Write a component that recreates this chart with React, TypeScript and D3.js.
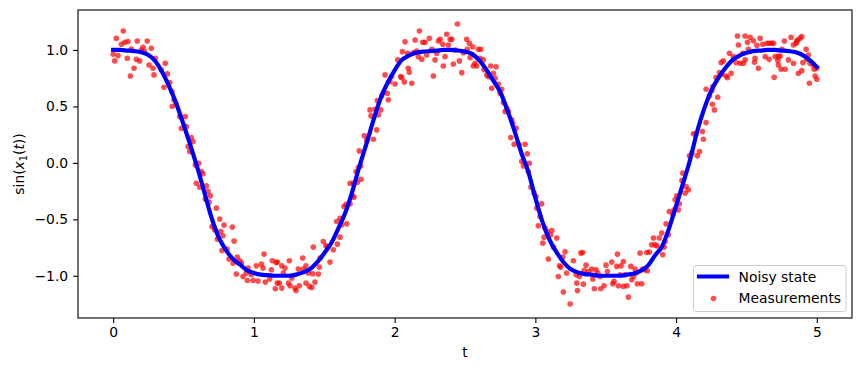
import React, { useEffect, useRef } from 'react';
import * as d3 from 'd3';

// time grid of the smooth state curve
const stateT = [
  0.0, 0.05, 0.1, 0.15, 0.2, 0.25, 0.3, 0.35, 0.4, 0.45, 0.5, 0.55, 0.6, 0.65, 0.7, 0.75, 0.8, 0.85, 0.9, 0.95,
  1.0, 1.05, 1.1, 1.15, 1.2, 1.25, 1.3, 1.35, 1.4, 1.45, 1.5, 1.55, 1.6, 1.65, 1.7, 1.75, 1.8, 1.85, 1.9, 1.95,
  2.0, 2.05, 2.1, 2.15, 2.2, 2.25, 2.3, 2.35, 2.4, 2.45, 2.5, 2.55, 2.6, 2.65, 2.7, 2.75, 2.8, 2.85, 2.9, 2.95,
  3.0, 3.05, 3.1, 3.15, 3.2, 3.25, 3.3, 3.35, 3.4, 3.45, 3.5, 3.55, 3.6, 3.65, 3.7, 3.75, 3.8, 3.85, 3.9, 3.95,
  4.0, 4.05, 4.1, 4.15, 4.2, 4.25, 4.3, 4.35, 4.4, 4.45, 4.5, 4.55, 4.6, 4.65, 4.7, 4.75, 4.8, 4.85, 4.9, 4.95,
  5.0,
];

// sin(x1(t))
const stateValues = [
  1.0, 1.0, 0.995, 0.99, 0.98, 0.955, 0.9, 0.8, 0.67, 0.52, 0.34, 0.15, -0.05, -0.27, -0.49, -0.66, -0.77, -0.85, -0.9, -0.95,
  -0.975, -0.99, -0.995, -1.0, -1.0, -1.0, -0.99, -0.97, -0.94, -0.88, -0.8, -0.71, -0.58, -0.44, -0.25, -0.03, 0.17, 0.38, 0.57, 0.71,
  0.82, 0.91, 0.95, 0.975, 0.985, 0.99, 0.995, 1.0, 1.0, 0.995, 0.985, 0.965, 0.91, 0.83, 0.73, 0.63, 0.47, 0.29, 0.09, -0.08,
  -0.31, -0.52, -0.68, -0.79, -0.88, -0.94, -0.97, -0.985, -0.99, -1.0, -1.0, -1.0, -1.0, -0.99, -0.98, -0.955, -0.91, -0.82, -0.74, -0.58,
  -0.38, -0.18, 0.03, 0.28, 0.48, 0.64, 0.75, 0.84, 0.91, 0.95, 0.975, 0.99, 0.995, 1.0, 1.0, 0.995, 0.99, 0.98, 0.955, 0.91,
  0.85,
];

// noisy measurements [t, value]
const measurements: [number, number][] = [
  [0.072, 1.168], [0.022, 1.103], [0.058, 1.05], [0.082, 1.068], [0.105, 1.074], [0.171, 1.08], [0.242, 1.08],
  [0.0, 0.962], [0.034, 0.95], [0.011, 0.903], [0.1, 0.926], [0.129, 1.009], [0.164, 0.917], [0.188, 0.903],
  [0.148, 0.838], [0.122, 0.77], [0.212, 1.024], [0.224, 0.985], [0.2, 1.0], [0.271, 1.015], [0.299, 0.926],
  [0.255, 0.867], [0.283, 0.838], [0.37, 0.882], [0.342, 0.823], [0.385, 0.788], [0.29, 0.779], [0.402, 0.711],
  [0.361, 0.67], [0.418, 0.631], [0.432, 0.558], [0.448, 0.522], [0.42, 0.502], [0.473, 0.41], [0.513, 0.41],
  [0.484, 0.307], [0.52, 0.321], [0.555, 0.224], [0.532, 0.144], [0.567, 0.189], [0.544, 0.1], [0.608, -0.003],
  [0.584, -0.018],
  [0.626, -0.077], [0.638, -0.097], [0.591, -0.18], [0.615, -0.215], [0.662, -0.204], [0.674, -0.254],
  [0.69, -0.292], [0.655, -0.321], [0.681, -0.348], [0.733, -0.401], [0.757, -0.498], [0.788, -0.551],
  [0.847, -0.569], [0.702, -0.564], [0.721, -0.593], [0.764, -0.608], [0.78, -0.646], [0.74, -0.675],
  [0.859, -0.693], [0.773, -0.776], [0.809, -0.764], [0.823, -0.852], [0.882, -0.835], [0.899, -0.867],
  [0.911, -0.888], [0.852, -0.888], [0.875, -0.985], [0.923, -1.006], [0.958, -0.932], [0.946, -0.976],
  [0.982, -0.991], [0.953, -1.042], [0.994, -1.042], [1.029, -1.047], [1.017, -0.912], [1.053, -0.897],
  [1.072, -0.808], [1.065, -0.932], [1.124, -0.947], [1.131, -0.867], [1.159, -0.882], [1.081, -1.056],
  [1.112, -1.029], [1.152, -1.115], [1.166, -1.065],
  [1.166, -0.879], [1.198, -0.912], [1.221, -0.932], [1.252, -0.867], [1.209, -0.976], [1.181, -1.065],
  [1.198, -1.109], [1.245, -1.065], [1.269, -1.02], [1.257, -1.088], [1.292, -1.109], [1.299, -1.13],
  [1.323, -1.088], [1.347, -0.843], [1.316, -0.941], [1.351, -0.941], [1.37, -0.912], [1.387, -0.976],
  [1.37, -1.065], [1.394, -1.094], [1.411, -1.103], [1.434, -1.056], [1.418, -0.982], [1.458, -0.985],
  [1.465, -0.923], [1.47, -0.843], [1.422, -0.746], [1.493, -0.696], [1.512, -0.735], [1.522, -0.746],
  [1.564, -0.77], [1.541, -0.879], [1.593, -0.72], [1.612, -0.658], [1.588, -0.519], [1.612, -0.49],
  [1.624, -0.549], [1.66, -0.54], [1.64, -0.386], [1.655, -0.366], [1.683, -0.363], [1.702, -0.292],
  [1.711, -0.304], [1.683, -0.18], [1.706, -0.18], [1.735, -0.174], [1.761, -0.145], [1.726, -0.077],
  [1.742, -0.041],
  [1.759, -0.027], [1.749, 0.106], [1.785, 0.239], [1.802, 0.197], [1.849, 0.209], [1.873, 0.292],
  [1.832, 0.416], [1.825, 0.469], [1.861, 0.475], [1.884, 0.425], [1.901, 0.469], [1.877, 0.551],
  [1.908, 0.593], [1.92, 0.622], [1.955, 0.558], [1.948, 0.617], [1.932, 0.779], [1.967, 0.719],
  [2.003, 0.699], [1.979, 0.764], [2.022, 0.912], [2.043, 0.764], [2.05, 0.755], [2.069, 0.717],
  [2.097, 0.838], [2.104, 0.803], [2.122, 0.705], [2.055, 0.985], [2.074, 1.073], [2.093, 0.971],
  [2.145, 1.088], [2.176, 1.168], [2.133, 0.976], [2.157, 0.991], [2.168, 0.941], [2.193, 0.917],
  [2.2, 1.068], [2.216, 1.068], [2.247, 1.103], [2.228, 0.956], [2.264, 1.006], [2.275, 0.77],
  [2.287, 0.912], [2.299, 0.971], [2.311, 1.08], [2.323, 1.094], [2.342, 1.05], [2.358, 0.941],
  [2.346, 0.858], [2.37, 1.139], [2.382, 1.044], [2.394, 1.094], [2.406, 1.094], [2.417, 0.876],
  [2.429, 1.0], [2.446, 1.23], [2.46, 0.903], [2.477, 0.799], [2.488, 0.976], [2.512, 1.094],
  [2.516, 1.006], [2.531, 1.059],
  [2.555, 1.029], [2.595, 1.006], [2.612, 1.006], [2.536, 0.932], [2.571, 0.882], [2.559, 0.858],
  [2.583, 0.858], [2.607, 0.926], [2.63, 0.912], [2.635, 0.826], [2.655, 0.779], [2.666, 0.764],
  [2.683, 0.858], [2.721, 0.852], [2.702, 0.794], [2.714, 0.749], [2.69, 0.661], [2.737, 0.699],
  [2.761, 0.652], [2.749, 0.617], [2.773, 0.534], [2.797, 0.484], [2.808, 0.454], [2.785, 0.454],
  [2.832, 0.381], [2.839, 0.351], [2.863, 0.307], [2.825, 0.224], [2.849, 0.165], [2.886, 0.159],
  [2.927, 0.165], [2.943, 0.08], [2.903, 0.012], [2.957, -0.003], [2.915, -0.027],
  [2.95, -0.077], [2.969, -0.215], [2.991, -0.268], [3.005, -0.298], [3.045, -0.363], [3.01, -0.401],
  [3.033, -0.475], [3.021, -0.558], [3.069, -0.578], [3.085, -0.608], [3.117, -0.599], [3.109, -0.637],
  [3.152, -0.666], [3.053, -0.711], [3.062, -0.658], [3.128, -0.746], [3.092, -0.852], [3.171, -0.912],
  [3.181, -0.923], [3.163, -1.006], [3.211, -0.788], [3.195, -0.835], [3.223, -0.976], [3.27, -0.867],
  [3.289, -0.991], [3.323, -0.799], [3.337, -0.794], [3.36, -0.906], [3.346, -0.953], [3.313, -1.006],
  [3.294, -1.065], [3.341, -1.074], [3.299, -1.13], [3.377, -0.962], [3.401, -0.941], [3.408, -1.029],
  [3.431, -0.947], [3.444, -0.976], [3.46, -1.006], [3.419, -1.115], [3.465, -1.115], [3.488, -1.088],
  [3.502, -0.906], [3.512, -0.962], [3.543, -0.879], [3.559, -1.05], [3.579, -0.917], [3.583, -0.808],
  [3.609, -0.912], [3.625, -0.873], [3.602, -0.991], [3.638, -0.991], [3.59, -1.088], [3.625, -1.094],
  [3.65, -1.088], [3.55, -1.071], [3.678, -0.917], [3.697, -1.006], [3.685, -1.035], [3.716, -0.976],
  [3.709, -0.941], [3.661, -1.189], [3.725, -1.071], [3.756, -1.071], [3.763, -0.941], [3.775, -0.947],
  [3.796, -0.956], [3.744, -0.799], [3.792, -0.794], [3.81, -0.79], [3.247, -1.25], [3.199, -1.144],
  [3.827, -0.726], [3.839, -0.666], [3.863, -0.735], [3.881, -0.666], [3.851, -0.726],
  [3.898, -0.622], [3.905, -0.814], [3.915, -0.746], [3.922, -0.696], [3.945, -0.637], [3.929, -0.54],
  [3.952, -0.431], [3.977, -0.46], [3.986, -0.416], [4.016, -0.416], [3.993, -0.327], [4.005, -0.292],
  [4.023, -0.363], [4.048, -0.091], [4.041, -0.157], [4.064, -0.268], [4.071, -0.209], [4.087, -0.239],
  [4.095, 0.062], [4.112, 0.086], [4.151, 0.062], [4.166, 0.1], [4.123, 0.257], [4.142, 0.257],
  [4.194, 0.209], [4.187, 0.277], [4.213, 0.357], [4.272, 0.469], [4.258, 0.519], [4.296, 0.581],
  [4.254, 0.64], [4.237, 0.593], [4.213, 0.652], [4.261, 0.675], [4.284, 0.755], [4.308, 0.799],
  [4.325, 0.785], [4.355, 0.77], [4.365, 0.755], [4.391, 0.794], [4.32, 0.888], [4.336, 0.903],
  [4.379, 0.971], [4.407, 0.941], [4.426, 0.888], [4.455, 0.882], [4.478, 0.882], [4.49, 0.912],
  [4.436, 1.124], [4.443, 1.044], [4.49, 1.124], [4.507, 1.068], [4.526, 1.112], [4.549, 1.082],
  [4.514, 1.006], [4.474, 0.971], [4.574, 1.041], [4.597, 1.103], [4.616, 1.05], [4.645, 1.059],
  [4.663, 1.059], [4.68, 1.059], [4.692, 1.059], [4.633, 0.941], [4.661, 0.917], [4.561, 0.926],
  [4.585, 0.838], [4.557, 0.891], [4.704, 0.941], [4.727, 0.941], [4.739, 0.947], [4.723, 0.906],
  [4.727, 0.867], [4.746, 0.829], [4.775, 0.829], [4.697, 0.758], [4.77, 1.08], [4.751, 1.006],
  [4.798, 0.912], [4.817, 1.112], [4.834, 0.882], [4.834, 1.044], [4.853, 1.059], [4.862, 1.088],
  [4.881, 1.103], [4.893, 1.118], [4.858, 1.074], [4.924, 1.006], [4.94, 0.956], [4.901, 0.888],
  [4.929, 0.917], [4.893, 0.817], [4.869, 0.794], [4.952, 0.882], [4.972, 0.867], [4.981, 0.829],
  [4.988, 0.77], [5.0, 0.741], [4.947, 0.705], [5.0, 0.838],
];

const xTicks = [0, 1, 2, 3, 4, 5];
const yTicks = [-1.0, -0.5, 0.0, 0.5, 1.0];
const legendLabels = ['Noisy state', 'Measurements'];

const FONT = 'DejaVu Sans, sans-serif';

export default function App() {
  const svgRef = useRef<SVGSVGElement | null>(null);

  useEffect(() => {
    const svg = d3.select(svgRef.current);
    svg.selectAll('*').remove();

    const left = 78, right = 852, top = 10, bottom = 318;
    const x = d3.scaleLinear().domain([-0.25, 5.25]).range([left, right]);
    const y = d3.scaleLinear().domain([-1.374, 1.354]).range([bottom, top]);

    svg.append('rect').attr('width', 862).attr('height', 371).attr('fill', '#fff');

    // measurements go under the line (matplotlib zorder)
    const plot = svg.append('g');
    plot.selectAll('circle')
      .data(measurements)
      .enter()
      .append('circle')
      .attr('cx', d => x(d[0]))
      .attr('cy', d => y(d[1]))
      .attr('r', 2.8)
      .attr('fill', 'red')
      .attr('fill-opacity', 0.7);

    const line = d3.line<number>()
      .x((d, i) => x(stateT[i]))
      .y(d => y(d))
      .curve(d3.curveMonotoneX);

    plot.append('path')
      .attr('d', line(stateValues))
      .attr('fill', 'none')
      .attr('stroke', 'blue')
      .attr('stroke-width', 4.2)
      .attr('stroke-linecap', 'square');

    // --- axes ---
    const xAxis = d3.axisBottom(x).tickValues(xTicks).tickFormat(d3.format('d'))
      .tickSize(4.9).tickSizeOuter(0).tickPadding(4);
    const gx = svg.append('g').attr('transform', `translate(0,${bottom})`).call(xAxis);

    const yAxis = d3.axisLeft(y).tickValues(yTicks).tickFormat(d3.format('.1f'))
      .tickSize(4.9).tickSizeOuter(0).tickPadding(4.9);
    const gy = svg.append('g').attr('transform', `translate(${left},0)`).call(yAxis);

    [gx, gy].forEach(g => {
      g.select('.domain').remove();
      g.selectAll('line').attr('stroke', '#000').attr('stroke-width', 1.1);
      g.selectAll('text').attr('fill', '#000').style('font-family', FONT).style('font-size', '13.9px');
    });

    svg.append('rect')
      .attr('x', left).attr('y', top)
      .attr('width', right - left).attr('height', bottom - top)
      .attr('fill', 'none').attr('stroke', '#000').attr('stroke-width', 1.1);

    // --- axis labels ---
    svg.append('text')
      .attr('x', (left + right) / 2).attr('y', 357)
      .attr('text-anchor', 'middle')
      .style('font-family', FONT).style('font-size', '13.9px')
      .text('t');

    const yl = svg.append('text')
      .attr('transform', `translate(24,${(top + bottom) / 2}) rotate(-90)`)
      .attr('text-anchor', 'middle')
      .style('font-family', FONT).style('font-size', '13.9px');
    yl.append('tspan').text('sin(');
    yl.append('tspan').attr('font-style', 'italic').text('x');
    yl.append('tspan').attr('font-size', '9.7px').attr('dy', 2.5).text('1');
    yl.append('tspan').attr('dy', -2.5).text('(');
    yl.append('tspan').attr('font-style', 'italic').text('t');
    yl.append('tspan').text('))');

    // --- legend ---
    const lg = svg.append('g');
    lg.append('rect')
      .attr('x', 693.5).attr('y', 265.5).attr('width', 152.5).attr('height', 46)
      .attr('rx', 2.8)
      .attr('fill', '#fff').attr('fill-opacity', 0.8)
      .attr('stroke', '#ccc').attr('stroke-width', 1);
    lg.append('line')
      .attr('x1', 699).attr('x2', 727).attr('y1', 276.5).attr('y2', 276.5)
      .attr('stroke', 'blue').attr('stroke-width', 4.2).attr('stroke-linecap', 'square');
    lg.append('circle')
      .attr('cx', 713.5).attr('cy', 298.5).attr('r', 2.8)
      .attr('fill', 'red').attr('fill-opacity', 0.7);
    lg.selectAll('text.lbl')
      .data(legendLabels)
      .enter()
      .append('text')
      .attr('class', 'lbl')
      .attr('x', 738.5)
      .attr('y', (d, i) => 281.5 + i * 21.5)
      .style('font-family', FONT).style('font-size', '13.9px')
      .text(d => d);
  }, []);

  return (
    <svg
      ref={svgRef}
      width={862}
      height={371}
      style={{ position: 'absolute', left: 0, top: 0 }}
    />
  );
}
